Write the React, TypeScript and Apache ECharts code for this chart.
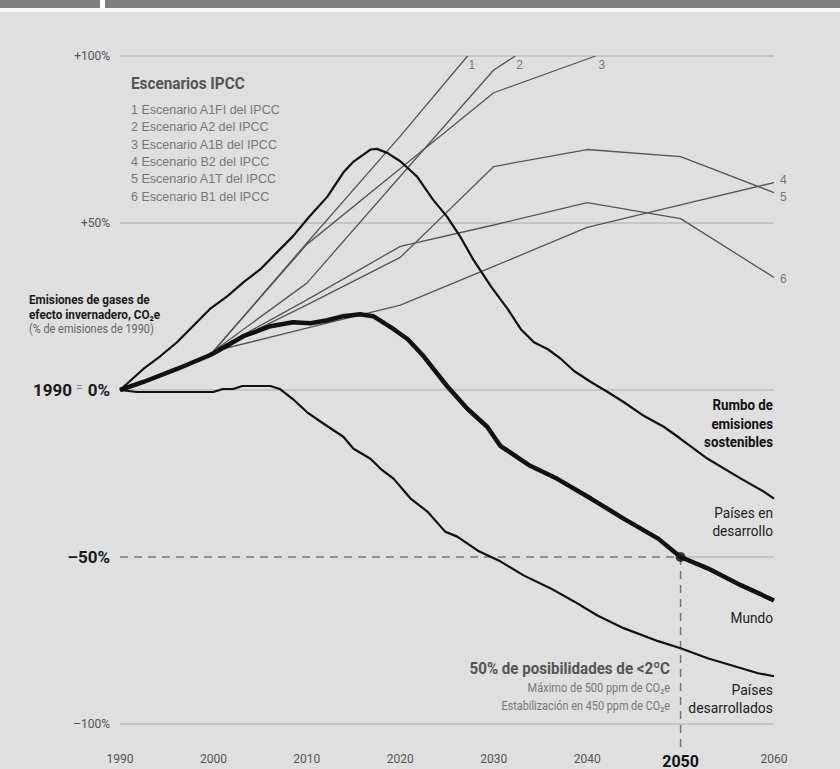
import React, { useEffect, useRef } from "react";
import * as echarts from "echarts";

// ---------- data ----------
const xTicks = [1990, 2000, 2010, 2020, 2030, 2040, 2050, 2060];
const yTicks = [-100, -50, 0, 50, 100];

const scenarioNames = [
  "1 Escenario A1FI del IPCC",
  "2 Escenario A2 del IPCC",
  "3 Escenario A1B del IPCC",
  "4 Escenario B2 del IPCC",
  "5 Escenario A1T del IPCC",
  "6 Escenario B1 del IPCC",
];

const a1fiYears = [2000, 2010, 2020, 2027.2];
const a1fiValues = [11.6, 44, 76, 100];
const a2Years = [2000, 2010, 2020, 2030, 2032.3];
const a2Values = [11.6, 32, 64, 95.8, 100];
const a1bYears = [2000, 2010, 2020, 2030, 2040.9];
const a1bValues = [11.6, 43.6, 66.3, 89, 100];
const decadeYears = [2000, 2010, 2020, 2030, 2040, 2050, 2060];
const b2Values = [11.6, 18.5, 25.4, 37, 48.7, 55.4, 62.1];
const a1tValues = [11.6, 25.5, 39.7, 66.9, 72, 69.9, 59.1];
const b1Values = [11.6, 27, 43, 49.4, 56.1, 51.3, 33.7];

const devYears = [
  1990, 1992.5, 1994.3, 1996.1, 1997.8, 1999.6, 2001.5, 2003.2, 2005, 2006.8,
  2008.5, 2010.3, 2012.2, 2013.9, 2015, 2016.8, 2017.5, 2018.6, 2020, 2021.8,
  2023.5, 2025, 2026.4, 2027.8, 2029.7, 2031.5, 2032.9, 2034.3, 2035.8, 2037.2,
  2038.6, 2040.4, 2042.2, 2043.9, 2046.1, 2048.2, 2050, 2052.9, 2056.5, 2058.9,
  2060,
];
const devValues = [
  0, 6.3, 10.1, 14.3, 19.1, 24.2, 28.1, 32.2, 36.1, 41.2, 46, 52, 57.9, 65.1,
  68.4, 72, 72.2, 71, 68.5, 63.9, 57, 51.9, 46, 39.1, 31, 24.2, 18.2, 14.3,
  12.2, 9.3, 5.7, 2.4, -0.6, -3.6, -7.8, -11, -14.6, -20.6, -26.6, -30.4,
  -32.5,
];

const worldYears = [
  1990, 1992.5, 1996.1, 1999.6, 2000.4, 2003.2, 2006.1, 2008.5, 2010.4, 2012.2,
  2013.9, 2015.7, 2017.1, 2019.3, 2020.8, 2022.5, 2025, 2027.2, 2029.3, 2030.7,
  2033.9, 2036.8, 2040.4, 2043.9, 2047.6, 2050, 2052.9, 2056.5, 2060,
];
const worldValues = [
  0, 2.4, 6.3, 10.4, 11.6, 16.1, 19.1, 20.3, 20, 20.9, 22.1, 22.7, 22.1, 18.2,
  15.2, 10.1, 1.2, -5.7, -11, -16.7, -22.7, -26.6, -32.5, -38.5, -44.5, -50,
  -53.4, -58.5, -63,
];

const devdYears = [
  1990, 1991.8, 2000, 2001, 2002.1, 2003.1, 2006.1, 2007.1, 2008.5, 2010,
  2011.8, 2013.9, 2015, 2016.8, 2017.9, 2019.3, 2021.1, 2022.9, 2024.8, 2026.1,
  2028.3, 2030.7, 2033.2, 2036.1, 2038.6, 2041.1, 2043.9, 2047.6, 2050, 2052.9,
  2056.5, 2058.3, 2060,
];
const devdValues = [
  0, -0.6, -0.6, 0.3, 0.3, 1.2, 1.2, 0.3, -2.7, -6.6, -10.1, -14, -17.6, -20.6,
  -23.6, -26.6, -32.5, -36.4, -42.4, -43.9, -48.1, -51.3, -55.5, -59.4, -63.3,
  -67.5, -71.3, -75.2, -77.3, -80.3, -83.3, -84.8, -85.7,
];

const targetYear = 2050;
const targetValue = -50;

// ---------- helpers ----------
const FONT = "Roboto, 'Liberation Sans', sans-serif";
const REG = "'Liberation Sans', Arial, sans-serif";

const zip = (xs: number[], ys: number[]) => xs.map((x, i) => [x, ys[i]]);

const ipccSeries = (
  name: string,
  years: number[],
  values: number[],
  tag: string,
  offset: number[]
) => ({
  name,
  type: "line",
  data: zip(years, values),
  showSymbol: false,
  symbol: "none",
  lineStyle: { color: "#555", width: 1.3 },
  z: 2,
  endLabel: {
    show: true,
    formatter: () => tag,
    color: "#777",
    fontSize: 12,
    fontFamily: REG,
    offset,
    distance: 5,
  },
  silent: true,
});

const blackSeries = (name: string, years: number[], values: number[], width: number) => ({
  name,
  type: "line",
  data: zip(years, values),
  showSymbol: false,
  symbol: "none",
  lineStyle: { color: "#111", width },
  z: 4,
  silent: true,
});

const txt = (
  text: string,
  x: number,
  y: number,
  opts: { size: number; bold?: boolean; color: string; align?: string; va?: string; lh?: number; sx?: number; family?: string }
) => ({
  type: "text",
  x,
  y,
  scaleX: opts.sx ?? 1,
  style: {
    text,
    fontSize: opts.size,
    fontWeight: opts.bold ? "bold" : "normal",
    fontFamily: opts.family ?? FONT,
    fill: opts.color,
    align: opts.align ?? "left",
    verticalAlign: opts.va ?? "top",
    lineHeight: opts.lh,
  },
  silent: true,
});

export default function App() {
  const ref = useRef<HTMLDivElement>(null);
  useEffect(() => {
    if (!ref.current) return;
    const chart = echarts.init(ref.current, undefined, { renderer: "svg" });

    const yLabel = (v: number) => {
      if (v === 0) return "{y|1990}{e|=}{b|0%}";
      if (v === targetValue) return "{b|–50%}";
      if (v > 0) return "{n|+" + v + "%}";
      return "{n|–" + Math.abs(v) + "%}";
    };

    const option: any = {
      animation: false,
      backgroundColor: "#dfdfdf",
      grid: { left: 120, right: 66, top: 56, bottom: 43 },
      xAxis: {
        type: "value",
        min: xTicks[0],
        max: xTicks[xTicks.length - 1],
        interval: 10,
        axisLine: { show: false },
        axisTick: { show: false },
        splitLine: { show: false },
        axisLabel: {
          margin: 29,
          formatter: (v: number) => (v === targetYear ? "{h|" + v + "}" : "{n|" + v + "}"),
          rich: {
            n: { fontSize: 12, color: "#555", fontFamily: FONT },
            h: { fontSize: 16, color: "#111", fontWeight: "bold", fontFamily: FONT },
          },
        },
      },
      yAxis: {
        type: "value",
        min: yTicks[0],
        max: yTicks[yTicks.length - 1],
        interval: 50,
        axisLine: { show: false },
        axisTick: { show: false },
        splitLine: {
          show: true,
          lineStyle: {
            color: ["#bdbdbd", "rgba(0,0,0,0)", "#bdbdbd", "#bdbdbd", "#bdbdbd"],
            width: 1.5,
          },
        },
        axisLabel: {
          margin: 10,
          formatter: yLabel,
          rich: {
            n: { fontSize: 12, color: "#555", fontFamily: FONT },
            b: { fontSize: 17, color: "#1a1a1a", fontWeight: "bold", fontFamily: FONT },
            y: { fontSize: 17, color: "#1a1a1a", fontWeight: "bold", fontFamily: FONT },
            e: {
              fontSize: 12,
              color: "#888",
              fontFamily: FONT,
              padding: [0, 5, 5, 4],
            },
          },
        },
      },
      graphic: [
        { type: "rect", shape: { x: 0, y: 0, width: 840, height: 8 }, style: { fill: "#7f7f7f" }, z: 10 },
        { type: "rect", shape: { x: 0, y: 8, width: 840, height: 4 }, style: { fill: "#f7f7f7" }, z: 10 },
        { type: "rect", shape: { x: 100, y: 0, width: 5, height: 8 }, style: { fill: "#ffffff" }, z: 10 },
        txt("Escenarios IPCC", 131, 83, { size: 17, bold: true, color: "#555", va: "middle", sx: 0.9 }),
        txt(scenarioNames.join("\n"), 131, 101, { size: 12.5, color: "#777", lh: 17.4, family: REG }),
        txt("Emisiones de gases de\nefecto invernadero, CO₂e", 29, 291, {
          size: 13.5,
          bold: true,
          color: "#1a1a1a",
          lh: 15.5,
          sx: 0.87,
        }),
        txt("(% de emisiones de 1990)", 29, 329, { size: 13, color: "#666", va: "middle", sx: 0.84 }),
        txt("Rumbo de\nemisiones\nsostenibles", 773, 396, {
          size: 15.5,
          bold: true,
          color: "#111",
          align: "right",
          lh: 18.5,
          sx: 0.86,
        }),
        txt("Países en\ndesarrollo", 773, 504, { size: 15.5, color: "#222", align: "right", lh: 17.5, sx: 0.88 }),
        txt("Mundo", 773, 618, { size: 15.5, color: "#222", align: "right", va: "middle", sx: 0.88 }),
        txt("Países\ndesarrollados", 773, 681, { size: 15.5, color: "#222", align: "right", lh: 17.5, sx: 0.9 }),
        txt("50% de posibilidades de <2ºC", 670, 668, {
          size: 17,
          bold: true,
          color: "#555",
          align: "right",
          va: "middle",
          sx: 0.89,
        }),
        txt("Máximo de 500 ppm de CO₂e", 670, 688, { size: 12.5, color: "#777", align: "right", va: "middle", sx: 0.88 }),
        txt("Estabilización en 450 ppm de CO₂e", 670, 706, {
          size: 12.5,
          color: "#777",
          align: "right",
          va: "middle",
          sx: 0.87,
        }),
      ],
      series: [
        ipccSeries("A1FI", a1fiYears, a1fiValues, "1", [-4, 9]),
        ipccSeries("A2", a2Years, a2Values, "2", [-4, 9]),
        ipccSeries("A1B", a1bYears, a1bValues, "3", [-2, 9]),
        ipccSeries("B2", decadeYears, b2Values, "4", [1, -3]),
        ipccSeries("A1T", decadeYears, a1tValues, "5", [1, 4]),
        ipccSeries("B1", decadeYears, b1Values, "6", [1, 2]),
        {
          name: "guides",
          type: "custom",
          silent: true,
          clip: false,
          z: 3,
          data: [
            [xTicks[0], targetValue, targetYear, targetValue, 1],
            [targetYear, targetValue, targetYear, yTicks[0] - 7, 1],
            [targetYear, targetValue, xTicks[xTicks.length - 1], targetValue, 0],
          ],
          renderItem: (_p: any, api: any) => {
            const a = api.coord([api.value(0), api.value(1)]);
            const b = api.coord([api.value(2), api.value(3)]);
            const dashed = api.value(4) === 1;
            return {
              type: "line",
              shape: { x1: a[0], y1: a[1], x2: b[0], y2: b[1] },
              style: dashed
                ? { stroke: "#777", lineWidth: 1.5, lineDash: [8, 6] }
                : { stroke: "#bdbdbd", lineWidth: 1.5 },
            };
          },
        },
        blackSeries("Países desarrollados", devdYears, devdValues, 2.2),
        blackSeries("Países en desarrollo", devYears, devValues, 2.2),
        blackSeries("Mundo", worldYears, worldValues, 4.5),
        {
          name: "objetivo",
          type: "scatter",
          data: [[targetYear, targetValue]],
          symbolSize: 10,
          itemStyle: { color: "#111" },
          z: 6,
          silent: true,
        },
      ],
    };
    chart.setOption(option);
    return () => chart.dispose();
  }, []);
  return (
    <div
      ref={ref}
      style={{ position: "fixed", left: 0, top: 0, width: 840, height: 769 }}
    />
  );
}
